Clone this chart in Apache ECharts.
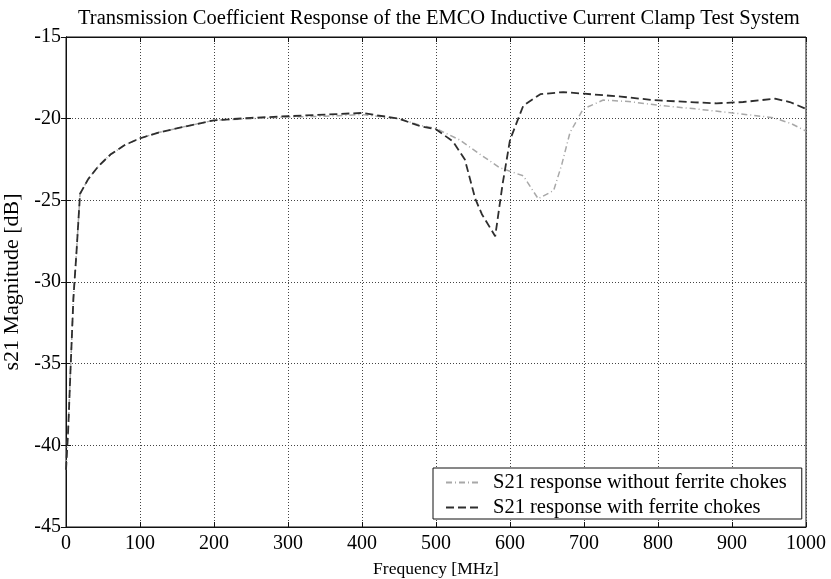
<!DOCTYPE html>
<html lang="en">
<head>
    <meta charset="UTF-8">
    <title>S21</title>
    <style>
        html, body { margin: 0; padding: 0; background: #fff; }
    </style>
</head>
<body>
<div class="main" style="width: 831px;height: 579px;"></div>
</body>
<script src="https://cdn.jsdelivr.net/npm/echarts@6/dist/echarts.min.js"></script>
<script>
    // with ferrite chokes (dashed)
    var freqWith = [0, 3, 6, 10, 14, 19, 30, 44, 60, 80, 100, 125, 154, 200, 250, 300, 350, 400, 450, 478,
        500, 523, 539, 553, 562, 580, 590, 600, 618, 641, 672, 700, 750, 793, 850, 879, 915, 958, 978, 1000];
    var magWith = [-41.5, -39, -35.5, -31, -28.3, -24.6, -23.7, -22.9, -22.2, -21.6, -21.2, -20.85, -20.55, -20.1, -19.95, -19.85, -19.75, -19.65, -20.0, -20.45,
        -20.65, -21.4, -22.5, -24.9, -25.85, -27.2, -24.0, -21.3, -19.2, -18.5, -18.37, -18.47, -18.65, -18.86, -19.0, -19.06, -18.98, -18.78, -18.98, -19.4];

    // without ferrite chokes (dash-dot)
    var freqWithout = [0, 3, 6, 10, 14, 19, 30, 44, 60, 80, 100, 125, 154, 200, 250, 300, 350, 400, 450, 478,
        500, 532, 560, 586, 605, 618, 638, 659, 670, 681, 699, 726, 760, 803, 850, 897, 956, 980, 1000];
    var magWithout = [-41.5, -39, -35.5, -31, -28.3, -24.6, -23.7, -22.9, -22.2, -21.6, -21.2, -20.85, -20.55, -20.1, -20.0, -19.9, -19.85, -19.75, -20.0, -20.4,
        -20.6, -21.3, -22.2, -23.0, -23.3, -23.5, -24.9, -24.4, -22.8, -20.86, -19.4, -18.86, -18.95, -19.19, -19.4, -19.63, -19.94, -20.3, -20.76];

    var seriesNames = ["S21 response without ferrite chokes", "S21 response with ferrite chokes"];

    function pairs(xs, ys) {
        return xs.map(function (x, i) { return [x, ys[i]]; });
    }

    var main = document.querySelector(".main");
    var mainEcharts = echarts.init(main);

    var serif = "Liberation Serif";
    var dotted = { color: "#444", width: 1, type: [1, 2] };
    var tickFont = { fontFamily: serif, fontSize: 20, color: "#000" };

    var option = {
        backgroundColor: "#fff",
        animation: false,
        title: {
            text: "Transmission Coefficient Response of the EMCO Inductive Current Clamp Test System",
            left: 73,
            top: 3,
            textStyle: { fontFamily: serif, fontSize: 20.5, fontWeight: "normal", color: "#000" }
        },
        grid: {
            left: 66, right: 25, top: 37, bottom: 52,
            outerBoundsMode: "none",
            show: true, borderColor: "#111", borderWidth: 1
        },
        legend: {
            orient: "vertical",
            left: 433,
            top: 468,
            backgroundColor: "#fff",
            borderColor: "#111",
            borderWidth: 1,
            padding: [4, 15, 1, 12],
            itemWidth: 35,
            itemHeight: 10,
            itemGap: 4,
            itemStyle: { opacity: 0 },
            textStyle: { fontFamily: serif, fontSize: 20.5, color: "#000", padding: [0, 0, 0, 7] },
            data: seriesNames
        },
        xAxis: [{
            type: "value",
            min: 0, max: 1000, interval: 100,
            name: "Frequency [MHz]",
            nameLocation: "middle",
            nameGap: 33,
            nameTextStyle: { fontFamily: serif, fontSize: 17.5, color: "#000" },
            axisLine: { lineStyle: { color: "#111" } },
            axisTick: { inside: true, length: 5, lineStyle: { color: "#111" } },
            axisLabel: Object.assign({ margin: 7, formatter: function (v) { return String(v); } }, tickFont),
            splitLine: { show: true, lineStyle: dotted }
        }, {
            type: "value", position: "top",
            min: 0, max: 1000, interval: 100,
            axisLine: { lineStyle: { color: "#111" } },
            axisTick: { inside: true, length: 5, lineStyle: { color: "#111" } },
            axisLabel: { show: false },
            splitLine: { show: false }
        }],
        yAxis: [{
            type: "value",
            min: -45, max: -15, interval: 5,
            name: "s21 Magnitude [dB]",
            nameLocation: "middle",
            nameGap: 40,
            nameTextStyle: { fontFamily: serif, fontSize: 22, color: "#000" },
            axisLine: { show: true, lineStyle: { color: "#111" } },
            axisTick: { inside: true, length: 5, lineStyle: { color: "#111" } },
            axisLabel: Object.assign({ margin: 5 }, tickFont),
            splitLine: { show: true, lineStyle: dotted }
        }, {
            type: "value", position: "right",
            min: -45, max: -15, interval: 5,
            axisLine: { show: true, lineStyle: { color: "#111" } },
            axisTick: { inside: true, length: 5, lineStyle: { color: "#111" } },
            axisLabel: { show: false },
            splitLine: { show: false }
        }],
        series: [{
            name: seriesNames[0],
            type: "line",
            symbol: "none",
            data: pairs(freqWithout, magWithout),
            lineStyle: { color: "#a8a8a8", width: 1.5, type: [6, 3, 1, 3] },
            itemStyle: { color: "#a8a8a8" },
            z: 2
        }, {
            name: seriesNames[1],
            type: "line",
            symbol: "none",
            data: pairs(freqWith, magWith),
            lineStyle: { color: "#2e2e2e", width: 1.8, type: [8, 4] },
            itemStyle: { color: "#2e2e2e" },
            z: 3
        }]
    };

    mainEcharts.setOption(option);
</script>
</html>
